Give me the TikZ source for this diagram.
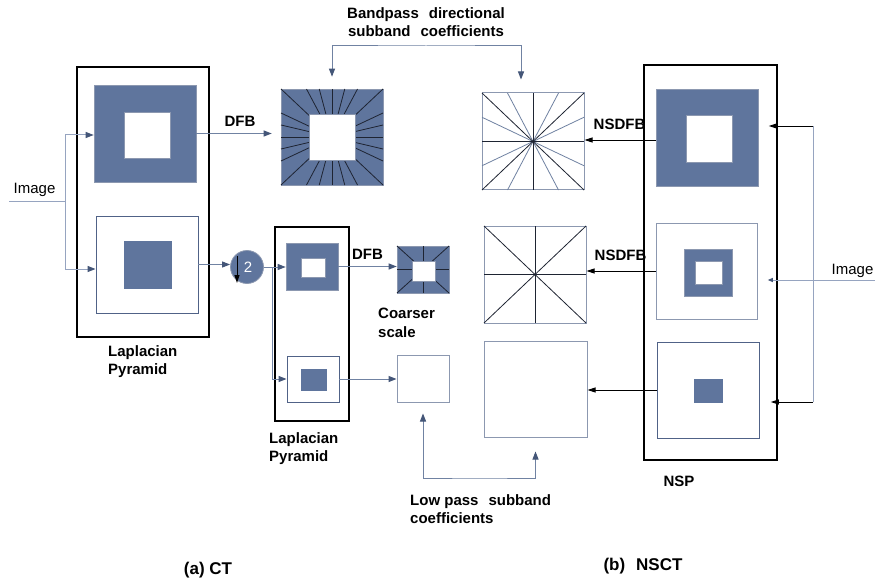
\documentclass[tikz,border=0pt]{standalone}
\usepackage{fontspec}
\setmainfont{Liberation Sans}
\usetikzlibrary{arrows.meta,fit}
\definecolor{bandblue}{RGB}{95,117,157}
\definecolor{edgegray}{RGB}{140,152,176}
\definecolor{edgeblue}{RGB}{80,98,135}
\definecolor{wireblue}{RGB}{112,130,162}
\definecolor{feedblue}{RGB}{150,164,192}
\definecolor{tipblue}{RGB}{68,86,120}
\definecolor{raydark}{RGB}{30,36,50}
\newcommand{\wgap}{\hspace{10pt}}

\begin{document}
\begin{tikzpicture}[x=1pt,y=-1pt,
  every node/.style={font=\fontsize{15}{18.5}\selectfont},
  lbl/.style={font=\fontsize{15}{18.5}\selectfont\bfseries, inner sep=0pt, align=left},
  captxt/.style={font=\fontsize{17}{20}\selectfont\bfseries, inner sep=0pt},
  txt/.style={inner sep=0pt},
  box/.style={draw=black, line width=1.6pt, fit={#1}, inner sep=0pt},
  ring/.style={fill=bandblue, draw=edgegray, line width=0.6pt, fit={#1}, inner sep=0pt},
  hole/.style={fill=white, draw=edgegray, line width=0.6pt, fit={#1}, inner sep=0pt},
  core/.style={fill=bandblue, fit={#1}, inner sep=0pt},
  frame/.style={draw=edgeblue, line width=0.9pt, fit={#1}, inner sep=0pt},
  plain/.style={draw=edgegray, line width=1pt, fit={#1}, inner sep=0pt},
  ray/.style={draw=raydark, line width=0.8pt},
  blueray/.style={draw=wireblue, line width=0.8pt},
  feed/.style={draw=feedblue, line width=1pt},
  wire/.style={draw=wireblue, line width=1pt},
  blk/.style={draw=black, line width=0.9pt},
  arw/.style={-{Triangle[length=8pt,width=6pt,color=tipblue]}},
  biarw/.style={{Triangle[length=8pt,width=6pt,color=tipblue]}-{Triangle[length=8pt,width=6pt,color=tipblue]}},
  blkarw/.style={-{Triangle[length=8pt,width=5pt,color=black]}},
  smallarw/.style={-{Triangle[length=5pt,width=4pt,color=tipblue]}}]
\useasboundingbox[fill=white] (0,0) rectangle (875,588);

\node[box={(77,67) (209,337)}] (lpbox) {};
\node[ring={(94,85) (196,182)}] (lphigh) {};
\node[hole={(124,112) (170,158)}] (lphighin) {};
\node[frame={(96,216) (198,313)}] (lplow) {};
\node[core={(124,241) (172,289)}] (lplowin) {};

\node[ring={(281,89) (383,185)}] (bpsq) {};
\foreach \u/\v in {-1/-1,-.5/-1,-.25/-1,0/-1,.25/-1,.5/-1,1/-1,1/-.5,1/-.25,1/0,1/.25,1/.5,1/1,.5/1,.25/1,0/1,-.25/1,-.5/1,-1/1,-1/.5,-1/.25,-1/0,-1/-.25,-1/-.5}
  \draw[ray] (bpsq.center) -- ++(\u*51,\v*48);
\node[hole={(309,114) (355,160)}] (bpin) {};

\node[circle, fill=bandblue, draw=edgegray, line width=0.8pt, minimum size=33pt, inner sep=0pt, text=white] (down) at (247,267) {\hspace{2pt}2};
\draw[blk,blkarw] ([xshift=-10pt,yshift=11pt]down.center) -- ++(0,27);

\node[box={(275,227) (349,421)}] (lp2box) {};
\node[ring={(286,243) (338,290)}] (lp2high) {};
\node[hole={(301,258) (325,277)}] (lp2highin) {};
\node[frame={(287,356) (339,402)}] (lp2low) {};
\node[core={(301,369) (327,391)}] (lp2lowin) {};

\node[ring={(397,246) (449,293)}] (coarse) {};
\foreach \u/\v in {1/0,0/1,1/1,1/-1}
  \draw[ray] (coarse.center) ++(\u*26,\v*23.5) -- ++(-2*\u*26,-2*\v*23.5);
\node[hole={(412,261) (435,281)}] (coarsein) {};
\node[plain={(397,355) (449,402)}] (lowsq) {};

\node[plain={(482,93) (584,190)}] (dir16) {};
\foreach \u/\v in {.5/1,-.5/1,1/.5,1/-.5}
  \draw[blueray] (dir16.center) ++(\u*51,\v*48.5) -- ++(-2*\u*51,-2*\v*48.5);
\foreach \u/\v in {1/0,0/1,1/1,1/-1}
  \draw[ray] (dir16.center) ++(\u*51,\v*48.5) -- ++(-2*\u*51,-2*\v*48.5);
\node[plain={(484,226) (586,323)}] (dir8) {};
\foreach \u/\v in {1/0,0/1,1/1,1/-1}
  \draw[ray] (dir8.center) ++(\u*51,\v*48.5) -- ++(-2*\u*51,-2*\v*48.5);
\node[plain={(484,341) (587,437)}] (lowpass) {};

\node[box={(644,65) (777,460)}] (nspbox) {};
\node[ring={(656,89) (758,186)}] (nsphigh) {};
\node[hole={(686,115) (732,162)}] (nsphighin) {};
\node[plain={(656,223) (757,319)}] (nspmid) {};
\node[ring={(684,249) (732,296)}] (nspmidring) {};
\node[hole={(695,261) (722,284)}] (nspmidin) {};
\node[frame={(657,342) (759,438)}] (nsplow) {};
\node[core={(694,379) (723,403)}] (nsplowin) {};

\coordinate (imgL) at (9,202);
\coordinate (forkL) at (65,202);
\draw[feed] (imgL) -- (forkL);
\draw[feed,arw] (forkL) |- ([yshift=-1.5pt]lphigh.west);
\draw[feed,arw] (forkL) |- ([yshift=-4.5pt]lplow.west);
\node[txt] (imgLname) at (34.5,189.5) {Image};

\draw[wire,arw,shorten >=9pt] (lphigh.east) -- (lphigh.east -| bpsq.west);
\node[lbl] (dfbA) at (240,121.5) {DFB};
\draw[wire,arw] (lplow.east) -- (lplow.east -| down.west);
\draw[wire,arw] (down.east) -- (down.east -| lp2high.west);
\draw[wire,arw] ([xshift=8.5pt]down.east) |- (lp2low.west);
\draw[wire,arw] (lp2high.east) -- (lp2high.east -| coarse.west);
\node[lbl] (dfbB) at (367.5,254) {DFB};
\draw[wire,arw] (lp2low.east) -- (lp2low.east -| lowsq.west);

\node[lbl, align=center] (bplbl) at (426,22) {Bandpass\wgap directional\\subband\wgap coefficients};
\coordinate (bpbar) at (426,46);
\draw[wire,biarw,shorten <=12pt,shorten >=13pt] (bpsq.north) |- (bpbar) -| ([xshift=-12pt]dir16.north);

\coordinate (lowbar) at (480,478);
\draw[wire,biarw,shorten <=11pt,shorten >=14pt] (lowsq.south) |- (lowbar) -| (lowpass.south);

\draw[blk,blkarw] ([yshift=-2.5pt]nsphigh.west) -- ([yshift=-2.5pt]nsphigh.west -| dir16.east);
\node[lbl] (nsdfbA) at (619.5,124.5) {NSDFB};
\draw[blk,blkarw] (nspmid.west) -- (nspmid.west -| dir8.east);
\node[lbl] (nsdfbB) at (620.5,255.5) {NSDFB};
\draw[blk,blkarw] (nsplow.west) -- (nsplow.west -| lowpass.east);

\coordinate (imgR) at (875,280);
\coordinate (forkTop) at (813,126);
\coordinate (forkBot) at (813,402);
\draw[feed] (forkTop) -- (forkBot);
\draw[feed,smallarw] (imgR) -- ([xshift=-10pt]imgR -| nspbox.east);
\draw[blk,blkarw] (forkTop) -- ([xshift=-9pt]forkTop -| nspbox.east);
\draw[blk,blkarw] (forkBot) -- ([xshift=-7pt]forkBot -| nspbox.east);
\node[txt] (imgRname) at (852.5,271) {Image};

\node[lbl, anchor=north west] (lpname) at (108,345) {Laplacian\\Pyramid};
\node[lbl, anchor=north west] (lp2name) at (269,432) {Laplacian\\Pyramid};
\node[lbl, anchor=north west] (coarsename) at (378,308) {Coarser\\scale};
\node[lbl, anchor=north west] (lowname) at (410,494) {Low pass\wgap subband\\coefficients};
\node[lbl] (nspname) at (679,481.5) {NSP};
\node[captxt] (ctname) at (208,570) {(a) CT};
\node[captxt] (nsctname) at (643,566) {(b)\hspace{11pt}NSCT};
\end{tikzpicture}
\end{document}
